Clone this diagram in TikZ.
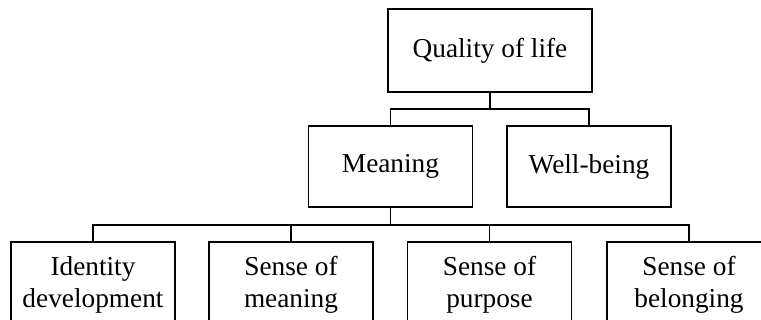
\documentclass[tikz,border=0pt]{standalone}
\usepackage{fontspec}
\setmainfont{Liberation Serif}
\usetikzlibrary{positioning}

\begin{document}
\begin{tikzpicture}[x=1pt, y=-1pt, line width=1.6pt,
		box/.style={draw, rectangle, inner sep=0pt, align=center, font=\fontsize{27.3}{32}\selectfont},
		topbox/.style={box, minimum width=204pt, minimum height=83pt},
		midbox/.style={box, minimum width=164pt, minimum height=81pt},
		lowbox/.style={box, minimum width=164pt, minimum height=86pt}]
			\useasboundingbox (0,0) rectangle (761,320);
			\clip (0,0) rectangle (761,320);
			% Top level
			\node[topbox] (qol) at (490,50.5) {Quality of life};
			% Second level
			\node[midbox] (meaning) at (390.5,166.5) {Meaning};
			\node[midbox] (wellbeing) at (589,166.5) {Well-being};
			\draw (qol.south) -- ++(0,16) coordinate (j1);
			\draw (meaning.north) |- (j1) -| (wellbeing.north);
			% Third level
			\node[lowbox] (identity) at (93,285) {Identity\\development};
			\node[lowbox] (smeaning) at (291,285) {Sense of\\meaning};
			\node[lowbox] (purpose) at (489.5,285) {Sense of\\purpose};
			\node[lowbox] (belonging) at (689,285) {Sense of\\belonging};
			\draw (meaning.south) -- ++(0,17) coordinate (j2);
			\draw (identity.north) |- (j2) -| (belonging.north);
			\draw (smeaning.north) -- (smeaning.north |- j2);
			\draw (purpose.north) -- (purpose.north |- j2);
		\end{tikzpicture}
\end{document}
